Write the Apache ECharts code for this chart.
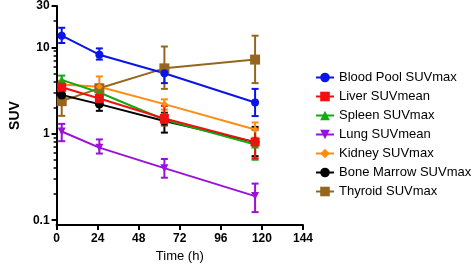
<!DOCTYPE html>
<html>
<head>
<meta charset="utf-8">
<script src="https://cdn.jsdelivr.net/npm/echarts@6/dist/echarts.min.js"></script>
<style>
  html, body { margin: 0; padding: 0; background: #fff; }
  #chart { width: 473px; height: 268px; }
</style>
</head>
<body>
<div id="chart"></div>
<script>
// time points (h)
const times = [3, 25, 63, 116];

const bloodMean = [13.6, 8.2, 5.0, 2.3];
const bloodLow = [11.2, 7.2, 3.85, 1.6];
const bloodHigh = [16.8, 9.7, 6.2, 3.3];

const liverMean = [3.45, 2.55, 1.5, 0.8];
const liverLow = [2.95, 2.2, 1.25, 0.52];
const liverHigh = [4.0, 2.9, 2.1, 1.14];

const spleenMean = [4.2, 3.0, 1.45, 0.75];
const spleenLow = [3.7, 2.6, 1.25, 0.5];
const spleenHigh = [4.7, 3.3, 1.7, 1.1];

const lungMean = [1.06, 0.69, 0.40, 0.19];
const lungLow = [0.82, 0.59, 0.31, 0.124];
const lungHigh = [1.30, 0.86, 0.51, 0.265];

const kidneyMean = [3.7, 3.5, 2.2, 1.12];
const kidneyLow = [3.3, 2.7, 1.9, 0.9];
const kidneyHigh = [4.1, 4.6, 2.5, 1.35];

const marrowMean = [2.8, 2.2, 1.4, 0.8];
const marrowLow = [2.45, 1.84, 1.03, 0.55];
const marrowHigh = [3.2, 2.5, 1.75, 1.2];

const thyroidMean = [2.38, 3.35, 5.7, 7.2];
const thyroidLow = [1.61, 3.0, 3.3, 3.85];
const thyroidHigh = [3.15, 3.7, 10.2, 13.6];

const xTicks = [0, 24, 48, 72, 96, 120, 144];
const yLabels = [0.1, 1, 10, 30];
const yMinor = [0.2, 0.3, 0.4, 0.5, 0.6, 0.7, 0.8, 0.9, 2, 3, 4, 5, 6, 7, 8, 9, 20];

const FONT = "'Liberation Sans', Arial, Helvetica, sans-serif";

const groups = [
  { name: 'Blood Pool SUVmax', color: '#0a14e6', symbol: 'circle', size: 8, mean: bloodMean, low: bloodLow, high: bloodHigh },
  { name: 'Liver SUVmean', color: '#ee1111', symbol: 'rect', size: 9, mean: liverMean, low: liverLow, high: liverHigh },
  { name: 'Spleen SUVmax', color: '#11aa11', symbol: 'triangle', size: 8, mean: spleenMean, low: spleenLow, high: spleenHigh },
  { name: 'Lung SUVmean', color: '#9a11d8', symbol: 'path://M0,0L10,0L5,9Z', size: 8, mean: lungMean, low: lungLow, high: lungHigh },
  { name: 'Kidney SUVmax', color: '#ff8c11', symbol: 'diamond', size: 7, mean: kidneyMean, low: kidneyLow, high: kidneyHigh },
  { name: 'Bone Marrow SUVmax', color: '#000000', symbol: 'circle', size: 9, mean: marrowMean, low: marrowLow, high: marrowHigh },
  { name: 'Thyroid SUVmax', color: '#96661e', symbol: 'rect', size: 10, mean: thyroidMean, low: thyroidLow, high: thyroidHigh }
];

function errorBarItem(color) {
  return function (params, api) {
    const x = api.value(0);
    const top = api.coord([x, api.value(2)]);
    const bot = api.coord([x, api.value(1)]);
    const half = 3.5;
    const style = { stroke: color, lineWidth: 2 };
    return {
      type: 'group',
      children: [
        { type: 'line', shape: { x1: top[0], y1: top[1], x2: bot[0], y2: bot[1] }, style: style },
        { type: 'line', shape: { x1: top[0] - half, y1: top[1], x2: top[0] + half, y2: top[1] }, style: style },
        { type: 'line', shape: { x1: bot[0] - half, y1: bot[1], x2: bot[0] + half, y2: bot[1] }, style: style }
      ]
    };
  };
}

// first group painted last, so it sits on top (as in the original)
const series = [];
groups.slice().reverse().forEach(g => {
  series.push({
    type: 'custom',
    renderItem: errorBarItem(g.color),
    data: times.map((t, k) => [t, g.low[k], g.high[k]]),
    silent: true
  });
  series.push({
    name: g.name,
    type: 'line',
    data: times.map((t, k) => [t, g.mean[k]]),
    symbol: g.symbol,
    symbolSize: g.size,
    showAllSymbol: true,
    color: g.color,
    lineStyle: { width: 2, color: g.color },
    itemStyle: { color: g.color }
  });
});

const chart = echarts.init(document.getElementById('chart'), null, { renderer: 'canvas' });

chart.setOption({
  animation: false,
  backgroundColor: '#fff',
  textStyle: { fontFamily: FONT },
  grid: { left: 35, right: 170, top: 5, bottom: 40, containLabel: false },
  legend: {
    data: groups.map(g => g.name),
    orient: 'vertical',
    left: 310,
    top: 66,
    itemWidth: 18,
    itemHeight: 12,
    itemGap: 6,
    textStyle: { fontFamily: FONT, fontSize: 13, color: '#000' }
  },
  xAxis: {
    type: 'value',
    min: 0,
    max: 144,
    interval: 24,
    name: 'Time (h)',
    nameLocation: 'middle',
    nameGap: 25,
    nameTextStyle: { fontFamily: FONT, fontSize: 13, color: '#000' },
    axisLine: { lineStyle: { color: '#000', width: 2 } },
    axisTick: { length: 5, lineStyle: { color: '#000', width: 2 } },
    axisLabel: { fontFamily: FONT, fontSize: 12, fontWeight: 'bold', color: '#000', margin: 8 },
    splitLine: { show: false }
  },
  yAxis: [
    {
      type: 'log',
      logBase: 10,
      min: 0.088,
      max: 30,
      name: 'SUV',
      nameLocation: 'middle',
      nameGap: 15,
      nameTextStyle: { fontFamily: FONT, fontSize: 14, fontWeight: 'bold', color: '#000' },
      axisLine: { show: true, lineStyle: { color: '#000', width: 2 } },
      axisTick: { show: true, length: 5, customValues: yLabels, lineStyle: { color: '#000', width: 2 } },
      axisLabel: {
        customValues: yLabels,
        fontFamily: FONT, fontSize: 12, fontWeight: 'bold', color: '#000', margin: 7,
        formatter: v => String(Math.round(v * 10) / 10)
      },
      splitLine: { show: false }
    },
    {
      type: 'log',
      logBase: 10,
      min: 0.088,
      max: 30,
      position: 'left',
      axisLine: { show: false },
      axisTick: { show: true, length: 3, customValues: yMinor, lineStyle: { color: '#000', width: 1.5 } },
      axisLabel: { show: false },
      splitLine: { show: false }
    }
  ],
  series: series
});
</script>
</body>
</html>
